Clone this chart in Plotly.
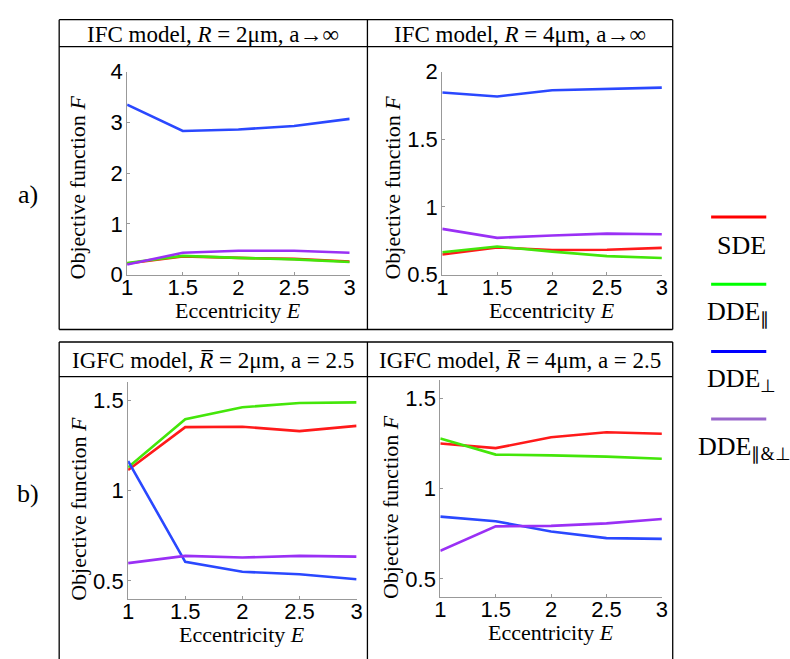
import plotly.graph_objects as go

W, H = 790, 659

eccentricity = [1, 1.5, 2, 2.5, 3]
x_ticks = [1, 1.5, 2, 2.5, 3]
x_tick_text = ["1", "1.5", "2", "2.5", "3"]

# IFC model, R = 2 um
ifc2_sde = [0.22, 0.36, 0.33, 0.31, 0.26]
ifc2_dde_par = [0.23, 0.37, 0.33, 0.30, 0.25]
ifc2_dde_perp = [3.35, 2.83, 2.86, 2.93, 3.07]
ifc2_dde_both = [0.20, 0.43, 0.47, 0.47, 0.43]

# IFC model, R = 4 um
ifc4_sde = [0.649, 0.701, 0.682, 0.684, 0.698]
ifc4_dde_par = [0.665, 0.708, 0.670, 0.637, 0.623]
ifc4_dde_perp = [1.846, 1.816, 1.863, 1.875, 1.882]
ifc4_dde_both = [0.838, 0.772, 0.789, 0.803, 0.798]

# IGFC model, mean R = 2 um
igfc2_sde = [1.114, 1.352, 1.354, 1.330, 1.359]
igfc2_dde_par = [1.129, 1.396, 1.462, 1.486, 1.489]
igfc2_dde_perp = [1.164, 0.605, 0.550, 0.536, 0.509]
igfc2_dde_both = [0.598, 0.638, 0.629, 0.638, 0.634]

# IGFC model, mean R = 4 um
igfc4_sde = [1.251, 1.225, 1.285, 1.313, 1.305]
igfc4_dde_par = [1.278, 1.189, 1.185, 1.178, 1.166]
igfc4_dde_perp = [0.845, 0.820, 0.763, 0.726, 0.722]
igfc4_dde_both = [0.656, 0.791, 0.794, 0.808, 0.832]

series_names = ["SDE", "DDE<sub>∥</sub>", "DDE<sub>⊥</sub>", "DDE<sub>∥&amp;⊥</sub>"]
line_colors = ["#ff1a1a", "#44e60a", "#2a48ff", "#9a30f5"]
legend_colors = ["#ff0000", "#00ff00", "#0000ff", "#9966cc"]

panel_titles = [
    "IFC model, <i>R</i> = 2μm, a→∞",
    "IFC model, <i>R</i> = 4μm, a→∞",
    "IGFC model, <i>R̅</i> = 2μm, a = 2.5",
    "IGFC model, <i>R̅</i> = 4μm, a = 2.5",
]
panel_series = [
    [ifc2_sde, ifc2_dde_par, ifc2_dde_perp, ifc2_dde_both],
    [ifc4_sde, ifc4_dde_par, ifc4_dde_perp, ifc4_dde_both],
    [igfc2_sde, igfc2_dde_par, igfc2_dde_perp, igfc2_dde_both],
    [igfc4_sde, igfc4_dde_par, igfc4_dde_perp, igfc4_dde_both],
]
y_ranges = [[0, 4], [0.5, 2], [0.4, 1.6], [0.4, 1.6]]
y_ticks = [[0, 1, 2, 3, 4], [0.5, 1, 1.5, 2], [0.5, 1, 1.5], [0.5, 1, 1.5]]
y_tick_text = [["0", "1", "2", "3", "4"], ["0.5", "1", "1.5", "2"],
               ["0.5", "1", "1.5"], ["0.5", "1", "1.5"]]


def px(x):
    return x / W


def py(y):
    return 1 - y / H


# plot-area rectangles in pixels: left, right, top, bottom
areas = [(123, 349, 62, 273), (443, 666, 62, 273),
         (124, 356, 385, 610), (441, 666, 383, 608)]
# vertical shift of each y-axis title below the plot-area centre
ytitle_shift = [15, 15, 19, 19]
# box cells: left, right, title-top, title-bottom
cells = [(54, 367, 8, 36), (367, 677, 8, 36),
         (54, 367, 343, 379), (367, 677, 343, 379)]

fig = go.Figure()
serif = "Liberation Serif, Times New Roman, serif"
sans = "Liberation Sans, Arial, sans-serif"

layout = dict(
    width=W, height=H, margin=dict(l=0, r=0, t=0, b=0),
    paper_bgcolor="white", plot_bgcolor="white", showlegend=False,
)

annotations = []
shapes = []

for i in range(4):
    n = "" if i == 0 else str(i + 1)
    l, r, t, b = areas[i]
    for vals, color in zip(panel_series[i], line_colors):
        fig.add_trace(go.Scatter(
            x=eccentricity, y=vals, mode="lines",
            line=dict(color=color, width=2.6),
            xaxis="x" + n, yaxis="y" + n, hoverinfo="skip",
        ))
    axis_common = dict(
        showgrid=False, zeroline=False, showline=True, linecolor="#999999",
        linewidth=1, ticks="inside", ticklen=3, tickcolor="#999999",
        tickwidth=1, tickfont=dict(family=sans, size=22, color="black"),
    )
    layout["xaxis" + n] = dict(
        axis_common, domain=[px(l), px(r)], range=[1, 3], anchor="y" + n,
        tickvals=x_ticks, ticktext=x_tick_text, ticklabelstandoff=-7,
    )
    layout["yaxis" + n] = dict(
        axis_common, domain=[py(b), py(t)], range=y_ranges[i], anchor="x" + n,
        tickvals=y_ticks[i], ticktext=y_tick_text[i], ticklabelstandoff=-1,
    )
    # axis titles
    cx = (l + r) / 2
    annotations.append(dict(
        text="Eccentricity <i>E</i>", x=px(cx), y=py(b + 37),
        xref="paper", yref="paper", showarrow=False,
        font=dict(family=serif, size=22, color="black"),
        xanchor="center", yanchor="middle",
    ))
    annotations.append(dict(
        text="Objective function <i>F</i>", x=px(l - 50),
        y=py((t + b) / 2 + ytitle_shift[i]),
        xref="paper", yref="paper", showarrow=False, textangle=-90,
        font=dict(family=serif, size=22, color="black"),
        xanchor="center", yanchor="middle",
    ))
    # panel title
    cl, cr, ct, cb = cells[i]
    annotations.append(dict(
        text=panel_titles[i], x=px((cl + cr) / 2), y=py((ct + cb) / 2 + 1),
        xref="paper", yref="paper", showarrow=False,
        font=dict(family=serif, size=23, color="black"),
        xanchor="center", yanchor="middle",
    ))

# framed boxes around the two rows (the lower one runs off the page)
line_style = dict(color="black", width=1.3)
for top, bottom, title_bottom in [(8, 330, 36), (343, 720, 379)]:
    shapes.append(dict(type="line", xref="paper", yref="paper",
                       x0=px(54), x1=px(677), y0=py(top), y1=py(top),
                       line=line_style))
    shapes.append(dict(type="line", xref="paper", yref="paper",
                       x0=px(54), x1=px(677), y0=py(title_bottom), y1=py(title_bottom),
                       line=line_style))
    for xv in (54, 367, 677):
        shapes.append(dict(type="line", xref="paper", yref="paper",
                           x0=px(xv), x1=px(xv), y0=py(bottom), y1=py(top),
                           line=line_style))
shapes.append(dict(type="line", xref="paper", yref="paper",
                   x0=px(54), x1=px(677), y0=py(330), y1=py(330),
                   line=line_style))

# row labels
for label, yc in [("a)", 190), ("b)", 500)]:
    annotations.append(dict(
        text=label, x=px(22), y=py(yc), xref="paper", yref="paper",
        showarrow=False, font=dict(family=serif, size=26, color="black"),
        xanchor="center", yanchor="middle",
    ))

# legend: a coloured line with its label underneath
legend_line_y = [213, 283, 353, 423]
legend_text_x = [720, 710, 710, 701]
for name, color, ly, tx in zip(series_names, legend_colors, legend_line_y, legend_text_x):
    shapes.append(dict(type="line", xref="paper", yref="paper",
                       x0=px(716), x1=px(772), y0=py(ly), y1=py(ly),
                       line=dict(color=color, width=3)))
    annotations.append(dict(
        text=name, x=px(tx), y=py(ly + 30), xref="paper", yref="paper",
        showarrow=False, font=dict(family=serif, size=26, color="black"),
        xanchor="left", yanchor="middle",
    ))

layout["annotations"] = annotations
layout["shapes"] = shapes
fig.update_layout(**layout)
fig.write_html("out.html")
